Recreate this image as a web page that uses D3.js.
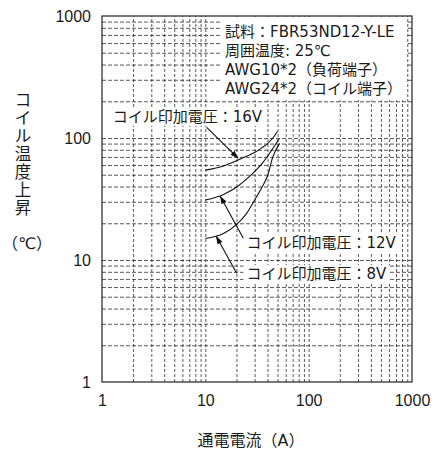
<!DOCTYPE html>
<html>
<head>
<meta charset="utf-8">
<script src="https://cdn.jsdelivr.net/npm/d3@7"></script>
<style>
  body { margin: 0; background: #fff; }
  svg { display: block; font-family: "DejaVu Sans", "Noto Sans CJK JP", sans-serif; }
  .grid line { stroke: #222; stroke-width: 0.75; }
  .grid .domain { display: none; }
  .ticks .domain { display: none; }
  .ticks text { font-size: 16px; fill: #1a1a1a; }
</style>
</head>
<body>
<div id="chart"></div>
<script>
// coil temperature rise vs. load current
const current16V = [10, 15, 20, 25, 30, 35, 40, 45, 50];
const temp16V = [54.5, 59, 65, 71, 76, 83, 90, 100, 113];
const current12V = [10, 15, 20, 25, 30, 35, 40, 45, 52];
const temp12V = [31, 34.5, 39.5, 46, 53, 61, 71, 82, 99];
const current8V = [10, 15, 20, 25, 30, 35, 40, 45, 52];
const temp8V = [15, 16.5, 19.5, 24, 31, 39, 49, 70, 90];

const tickLabels = [1, 10, 100, 1000];
const legendLines = [
  '試料：FBR53ND12-Y-LE',
  '周囲温度: 25℃',
  'AWG10*2（負荷端子）',
  'AWG24*2（コイル端子）'
];
const yTitle = ['コ', 'イ', 'ル', '温', '度', '上', '昇'];

// callouts: label anchor, arrow tail and arrow head, all in data units (A, ℃)
const callouts = [
  { text: 'コイル印加電圧：16V', at: [1.27, 150], from: [10.3, 122], to: [20.8, 68] },
  { text: 'コイル印加電圧：12V', at: [25, 13.8], from: [23.3, 15.1], to: [13.9, 33.5] },
  { text: 'コイル印加電圧：8V', at: [25, 7.7], from: [20.1, 7.8], to: [12.7, 15.7] }
];

const width = 437;
const height = 454;
const margin = { top: 16, right: 25, bottom: 72, left: 102 };

const svg = d3.select('#chart')
  .append('svg')
  .attr('width', width)
  .attr('height', height);

const x = d3.scaleLog().domain([1, 1000]).range([margin.left, width - margin.right]);
const y = d3.scaleLog().domain([1, 1000]).range([height - margin.bottom, margin.top]);

// every 1..9 step inside the three decades, the frame covers 1 and 1000
const gridValues = [];
for (const decade of [1, 10, 100]) {
  for (let m = 1; m <= 9; m++) {
    if (decade * m > 1) gridValues.push(decade * m);
  }
}

svg.append('g')
  .attr('class', 'grid')
  .attr('transform', `translate(0, ${height - margin.bottom})`)
  .call(d3.axisBottom(x).tickValues(gridValues).tickFormat('')
    .tickSize(-(height - margin.top - margin.bottom)))
  .selectAll('line')
  .attr('stroke-dasharray', '3,2');

svg.append('g')
  .attr('class', 'grid')
  .attr('transform', `translate(${margin.left}, 0)`)
  .call(d3.axisLeft(y).tickValues(gridValues).tickFormat('')
    .tickSize(-(width - margin.left - margin.right)))
  .selectAll('line')
  .attr('stroke-dasharray', '4,2');

svg.append('g')
  .attr('class', 'ticks')
  .attr('transform', `translate(0, ${height - margin.bottom})`)
  .call(d3.axisBottom(x).tickValues(tickLabels).tickFormat(d3.format('d'))
    .tickSize(0).tickPadding(13));

svg.append('g')
  .attr('class', 'ticks')
  .attr('transform', `translate(${margin.left}, 0)`)
  .call(d3.axisLeft(y).tickValues(tickLabels).tickFormat(d3.format('d'))
    .tickSize(0).tickPadding(11));

// legend block with white backing
const legend = svg.append('g');
legend.selectAll('text')
  .data(legendLines)
  .join('text')
  .attr('x', x(15.5))
  .attr('y', (d, i) => y(739) + i * 19)
  .attr('dy', '0.35em')
  .attr('font-size', 15)
  .attr('fill', '#1a1a1a')
  .text(d => d);
{
  const bb = legend.node().getBBox();
  legend.insert('rect', 'text')
    .attr('x', bb.x - 5).attr('y', margin.top + 2)
    .attr('width', bb.width + 9).attr('height', bb.y + bb.height - margin.top)
    .attr('fill', '#fff');
}

// curves
const line = d3.line()
  .x(d => x(d[0]))
  .y(d => y(d[1]))
  .curve(d3.curveMonotoneX);

const series = [
  d3.zip(current16V, temp16V),
  d3.zip(current12V, temp12V),
  d3.zip(current8V, temp8V)
];

svg.append('g')
  .selectAll('path')
  .data(series)
  .join('path')
  .attr('d', line)
  .attr('fill', 'none')
  .attr('stroke', '#111')
  .attr('stroke-width', 1.1);

// arrows
svg.append('defs')
  .append('marker')
  .attr('id', 'arrow')
  .attr('viewBox', '0 0 10 10')
  .attr('refX', 10)
  .attr('refY', 5)
  .attr('markerWidth', 9)
  .attr('markerHeight', 8)
  .attr('markerUnits', 'userSpaceOnUse')
  .attr('orient', 'auto')
  .append('path')
  .attr('d', 'M0,1.5 L10,5 L0,8.5 Z')
  .attr('fill', '#111');

for (const c of callouts) {
  const g = svg.append('g');
  const t = g.append('text')
    .attr('x', x(c.at[0]))
    .attr('y', y(c.at[1]))
    .attr('dy', '0.35em')
    .attr('font-size', 15)
    .attr('fill', '#1a1a1a')
    .text(c.text);
  const bb = t.node().getBBox();
  g.insert('rect', 'text')
    .attr('x', bb.x - 3).attr('y', bb.y)
    .attr('width', bb.width + 6).attr('height', bb.height)
    .attr('fill', '#fff');
  svg.append('line')
    .attr('x1', x(c.from[0])).attr('y1', y(c.from[1]))
    .attr('x2', x(c.to[0])).attr('y2', y(c.to[1]))
    .attr('stroke', '#111')
    .attr('stroke-width', 1.1)
    .attr('marker-end', 'url(#arrow)');
}

// frame
svg.append('rect')
  .attr('x', margin.left)
  .attr('y', margin.top)
  .attr('width', width - margin.left - margin.right)
  .attr('height', height - margin.top - margin.bottom)
  .attr('fill', 'none')
  .attr('stroke', '#222')
  .attr('stroke-width', 1.2);

// axis titles
svg.append('text')
  .attr('x', (margin.left + width - margin.right) / 2 - 6)
  .attr('y', 440)
  .attr('dy', '0.35em')
  .attr('text-anchor', 'middle')
  .attr('font-size', 16)
  .attr('fill', '#1a1a1a')
  .text('通電電流（A）');

svg.append('g')
  .selectAll('text')
  .data(yTitle)
  .join('text')
  .attr('x', 23)
  .attr('y', (d, i) => 100 + i * 18)
  .attr('dy', '0.35em')
  .attr('text-anchor', 'middle')
  .attr('font-size', 16.5)
  .attr('fill', '#1a1a1a')
  .text(d => d);

svg.append('text')
  .attr('x', 27)
  .attr('y', 243)
  .attr('dy', '0.35em')
  .attr('text-anchor', 'middle')
  .attr('font-size', 16)
  .attr('fill', '#1a1a1a')
  .text('（℃）');
</script>
</body>
</html>
